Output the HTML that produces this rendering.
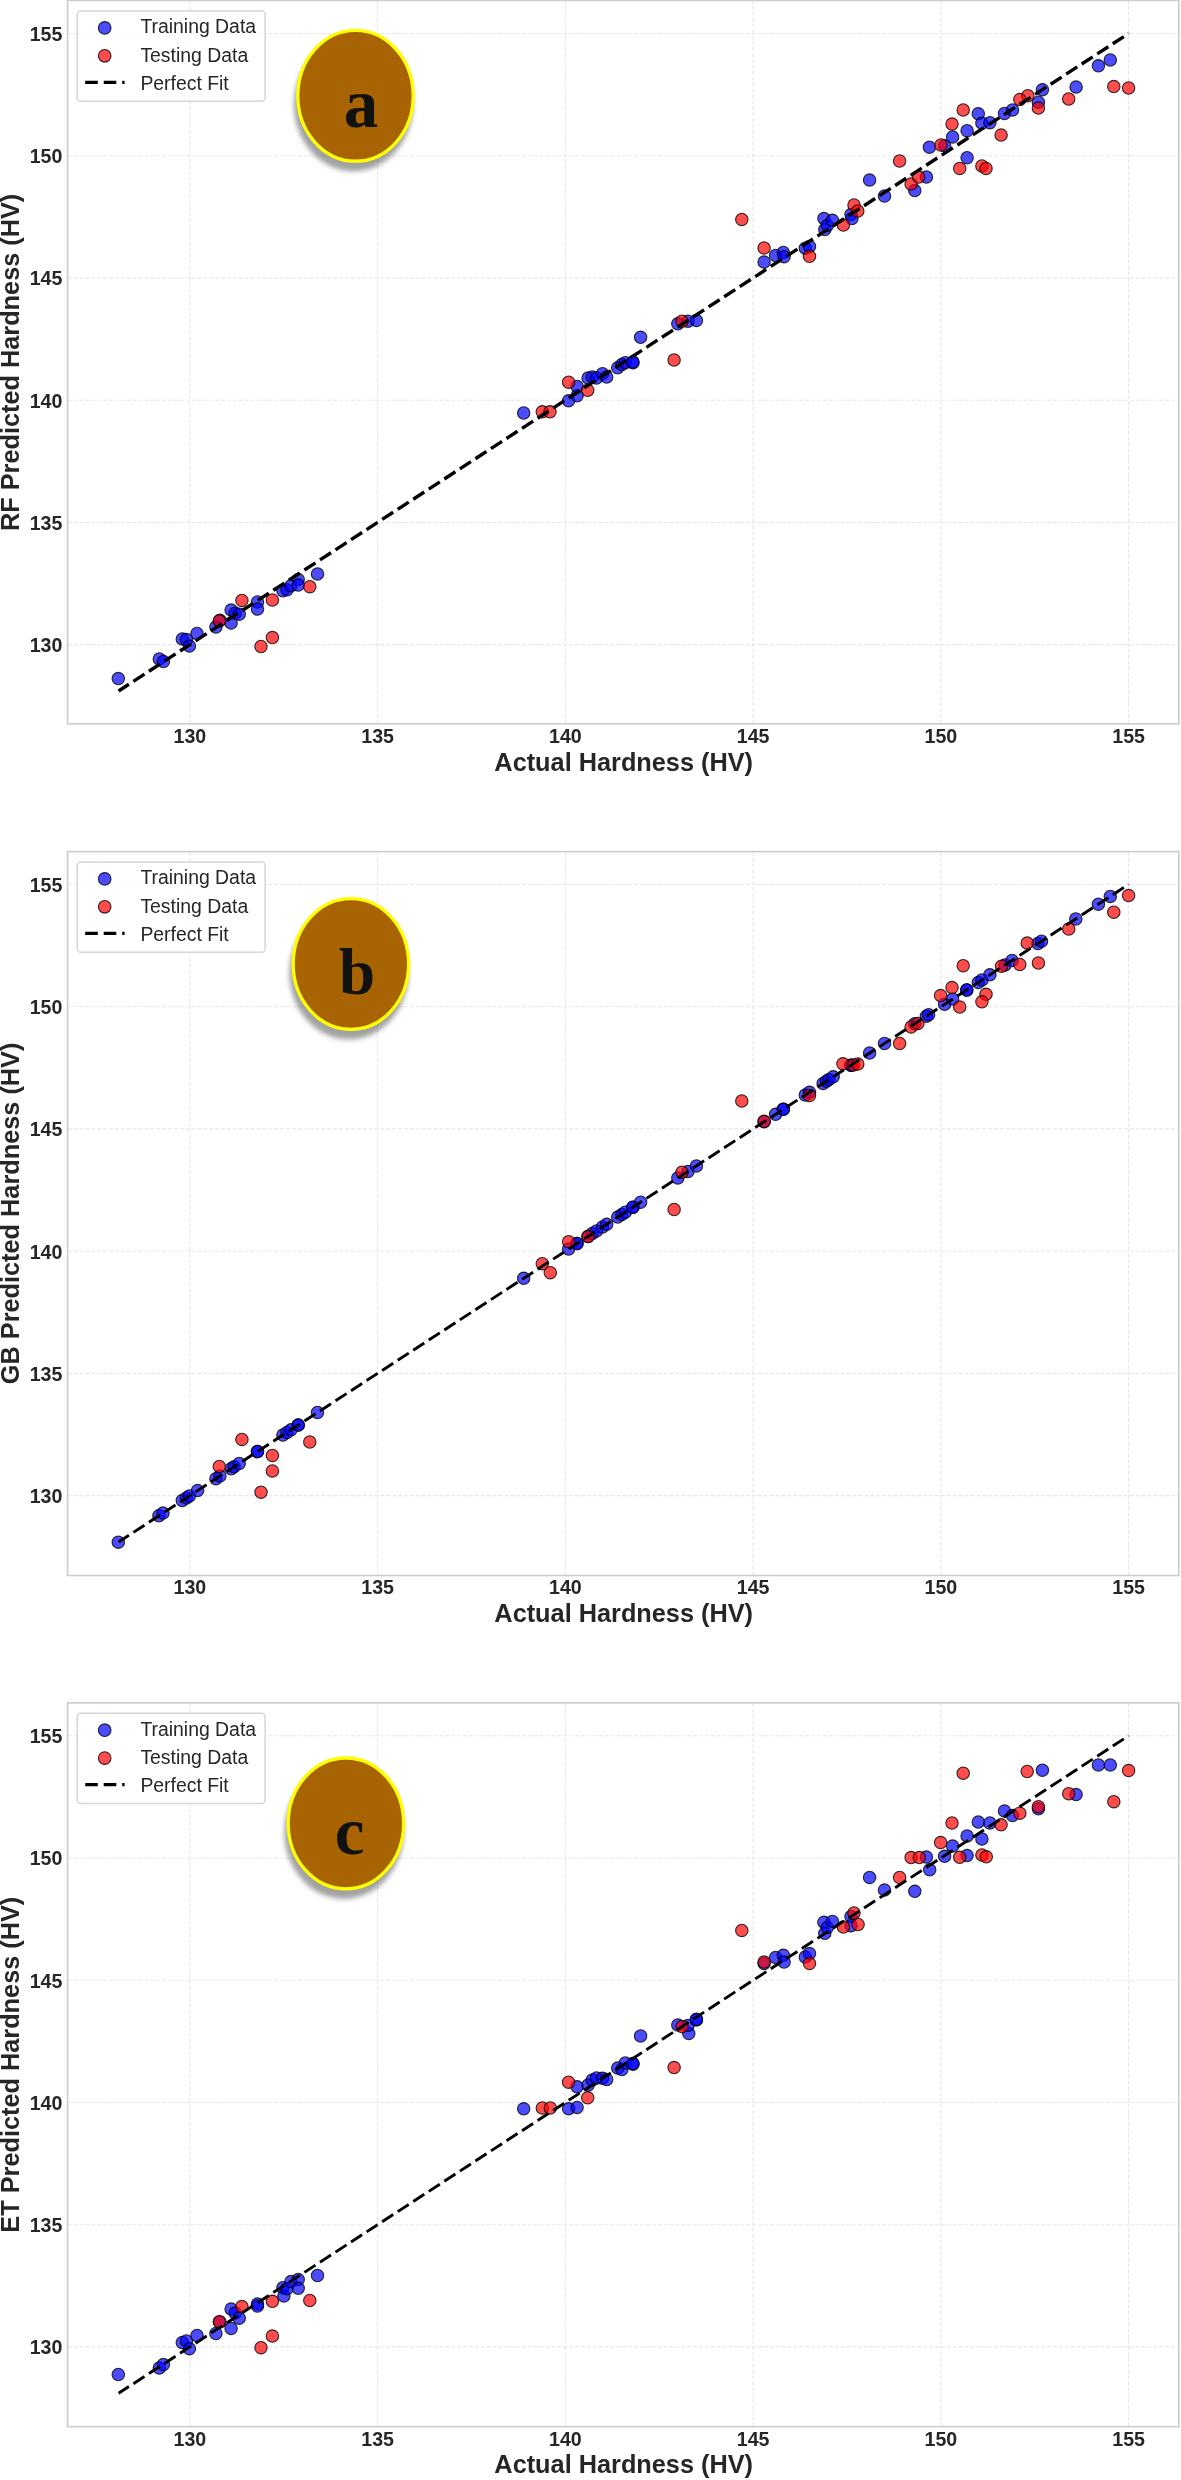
<!DOCTYPE html>
<html><head><meta charset="utf-8"><title>Predicted vs Actual Hardness</title>
<style>
html,body{margin:0;padding:0;background:#fff;}
body{width:1181px;height:2480px;overflow:hidden;font-family:"Liberation Sans",sans-serif;}
svg{display:block;will-change:transform;}
.tk{font-family:"Liberation Sans",sans-serif;font-weight:bold;font-size:19.6px;fill:#262626;}
.al{font-family:"Liberation Sans",sans-serif;font-weight:bold;font-size:25.3px;fill:#262626;}
.lg{font-family:"Liberation Sans",sans-serif;font-size:19.4px;fill:#262626;}
.lt{font-family:"Liberation Serif",serif;font-weight:bold;font-size:70px;fill:#111;}
.gr{stroke:#e7e7e7;stroke-width:1.1;stroke-dasharray:4.1 1.8;fill:none;}
.fr{stroke:#cccccc;stroke-width:1.6;fill:none;}
.bl{fill:#0000ff;fill-opacity:.7;stroke:#000;stroke-opacity:.8;stroke-width:1.1;}
.rd{fill:#ff0000;fill-opacity:.7;stroke:#000;stroke-opacity:.8;stroke-width:1.1;}
</style></head><body>
<svg width="1181" height="2480" viewBox="0 0 1181 2480">
<defs><filter id="sh" x="-30%" y="-30%" width="160%" height="160%"><feGaussianBlur stdDeviation="2.4"/></filter></defs>
<rect width="1181" height="2480" fill="#fff"/>

<g>
<path class="gr" d="M189.9 723.8 V0.4"/>
<path class="gr" d="M67.6 644.6 H1178.8"/>
<path class="gr" d="M377.6 723.8 V0.4"/>
<path class="gr" d="M67.6 522.4 H1178.8"/>
<path class="gr" d="M565.4 723.8 V0.4"/>
<path class="gr" d="M67.6 400.2 H1178.8"/>
<path class="gr" d="M753.1 723.8 V0.4"/>
<path class="gr" d="M67.6 277.9 H1178.8"/>
<path class="gr" d="M940.9 723.8 V0.4"/>
<path class="gr" d="M67.6 155.7 H1178.8"/>
<path class="gr" d="M1128.6 723.8 V0.4"/>
<path class="gr" d="M67.6 33.5 H1178.8"/>
<g class="bl"><circle cx="118.3" cy="678.6" r="6.2"/><circle cx="159.3" cy="658.9" r="6.2"/><circle cx="163.4" cy="661.5" r="6.2"/><circle cx="182.3" cy="639" r="6.2"/><circle cx="186.4" cy="639.6" r="6.2"/><circle cx="189.4" cy="646.1" r="6.2"/><circle cx="197" cy="633.5" r="6.2"/><circle cx="215.9" cy="627" r="6.2"/><circle cx="219.9" cy="620.3" r="6.2"/><circle cx="231.1" cy="610.1" r="6.2"/><circle cx="231.1" cy="622.9" r="6.2"/><circle cx="235.2" cy="613.2" r="6.2"/><circle cx="239.2" cy="614.2" r="6.2"/><circle cx="257.5" cy="602" r="6.2"/><circle cx="257.5" cy="609.1" r="6.2"/><circle cx="282.9" cy="590.8" r="6.2"/><circle cx="287" cy="589.8" r="6.2"/><circle cx="291" cy="585.7" r="6.2"/><circle cx="298.2" cy="579.6" r="6.2"/><circle cx="298.2" cy="585.1" r="6.2"/><circle cx="317.5" cy="573.9" r="6.2"/><circle cx="523.7" cy="413" r="6.2"/><circle cx="568.6" cy="400.8" r="6.2"/><circle cx="577.1" cy="395.8" r="6.2"/><circle cx="577.1" cy="386.4" r="6.2"/><circle cx="588.1" cy="378" r="6.2"/><circle cx="592.3" cy="377.1" r="6.2"/><circle cx="596.5" cy="378" r="6.2"/><circle cx="602.5" cy="373.7" r="6.2"/><circle cx="606.7" cy="377.1" r="6.2"/><circle cx="617.7" cy="367.8" r="6.2"/><circle cx="621.9" cy="364.4" r="6.2"/><circle cx="625.3" cy="362.7" r="6.2"/><circle cx="632.9" cy="362.7" r="6.2"/><circle cx="632.9" cy="361.9" r="6.2"/><circle cx="640.6" cy="337.3" r="6.2"/><circle cx="677.8" cy="323.8" r="6.2"/><circle cx="688" cy="321.2" r="6.2"/><circle cx="696.4" cy="320.4" r="6.2"/><circle cx="764.1" cy="262.1" r="6.2"/><circle cx="775.6" cy="255.5" r="6.2"/><circle cx="783.3" cy="252.5" r="6.2"/><circle cx="784.1" cy="256.7" r="6.2"/><circle cx="805.3" cy="248.2" r="6.2"/><circle cx="809.5" cy="246.5" r="6.2"/><circle cx="823.9" cy="218.6" r="6.2"/><circle cx="824.8" cy="229.6" r="6.2"/><circle cx="827.3" cy="225.4" r="6.2"/><circle cx="832.4" cy="220.3" r="6.2"/><circle cx="851" cy="214.4" r="6.2"/><circle cx="851.9" cy="218.6" r="6.2"/><circle cx="869.6" cy="180.1" r="6.2"/><circle cx="884.5" cy="196.1" r="6.2"/><circle cx="914.8" cy="190.6" r="6.2"/><circle cx="926.4" cy="177" r="6.2"/><circle cx="929.4" cy="147.2" r="6.2"/><circle cx="944.6" cy="145.8" r="6.2"/><circle cx="952.6" cy="136.9" r="6.2"/><circle cx="967.1" cy="130.7" r="6.2"/><circle cx="967.1" cy="157.7" r="6.2"/><circle cx="978.3" cy="113.8" r="6.2"/><circle cx="981.9" cy="123.2" r="6.2"/><circle cx="989.9" cy="122.7" r="6.2"/><circle cx="1004.5" cy="113.4" r="6.2"/><circle cx="1012.5" cy="109.9" r="6.2"/><circle cx="1038.4" cy="102.2" r="6.2"/><circle cx="1042.4" cy="89.8" r="6.2"/><circle cx="1076.1" cy="87.1" r="6.2"/><circle cx="1098.4" cy="65.8" r="6.2"/><circle cx="1110.3" cy="59.9" r="6.2"/></g>
<g class="rd"><circle cx="219.3" cy="620.9" r="6.2"/><circle cx="241.9" cy="600.4" r="6.2"/><circle cx="272.4" cy="600" r="6.2"/><circle cx="309.8" cy="586.7" r="6.2"/><circle cx="272.4" cy="637.6" r="6.2"/><circle cx="261" cy="646.5" r="6.2"/><circle cx="542.3" cy="411.8" r="6.2"/><circle cx="550" cy="411.8" r="6.2"/><circle cx="568.6" cy="382.2" r="6.2"/><circle cx="587.7" cy="390.3" r="6.2"/><circle cx="674.1" cy="359.9" r="6.2"/><circle cx="682" cy="321.2" r="6.2"/><circle cx="741.8" cy="219.4" r="6.2"/><circle cx="764.1" cy="247.9" r="6.2"/><circle cx="809.5" cy="256.3" r="6.2"/><circle cx="843.4" cy="225" r="6.2"/><circle cx="854" cy="205" r="6.2"/><circle cx="857.8" cy="211" r="6.2"/><circle cx="899.6" cy="161" r="6.2"/><circle cx="911.1" cy="183.9" r="6.2"/><circle cx="918.7" cy="177.1" r="6.2"/><circle cx="1128.6" cy="88" r="6.2"/><circle cx="1113.8" cy="86.6" r="6.2"/><circle cx="1068.7" cy="99" r="6.2"/><circle cx="1038.4" cy="108.1" r="6.2"/><circle cx="1027.8" cy="95.7" r="6.2"/><circle cx="1019.8" cy="99.6" r="6.2"/><circle cx="1001.1" cy="135.1" r="6.2"/><circle cx="963.2" cy="109.9" r="6.2"/><circle cx="952" cy="124.1" r="6.2"/><circle cx="941" cy="144.9" r="6.2"/><circle cx="959.7" cy="168.4" r="6.2"/><circle cx="981.9" cy="165.9" r="6.2"/><circle cx="986" cy="168.4" r="6.2"/></g>
<path d="M118.6 691 L1128.6 33.5" stroke="#000" stroke-width="3.4" stroke-dasharray="13.2 5.35" stroke-dashoffset="0.9" fill="none"/>
<rect class="fr" x="67.6" y="0.4" width="1111.2" height="723.4"/>
<text class="tk" text-anchor="middle" x="189.9" y="743.4">130</text>
<text class="tk" text-anchor="end" x="62.4" y="651.9">130</text>
<text class="tk" text-anchor="middle" x="377.6" y="743.4">135</text>
<text class="tk" text-anchor="end" x="62.4" y="529.7">135</text>
<text class="tk" text-anchor="middle" x="565.4" y="743.4">140</text>
<text class="tk" text-anchor="end" x="62.4" y="407.5">140</text>
<text class="tk" text-anchor="middle" x="753.1" y="743.4">145</text>
<text class="tk" text-anchor="end" x="62.4" y="285.2">145</text>
<text class="tk" text-anchor="middle" x="940.9" y="743.4">150</text>
<text class="tk" text-anchor="end" x="62.4" y="163">150</text>
<text class="tk" text-anchor="middle" x="1128.6" y="743.4">155</text>
<text class="tk" text-anchor="end" x="62.4" y="40.8">155</text>
<text class="al" text-anchor="middle" x="623.7" y="771">Actual Hardness (HV)</text>
<text class="al" text-anchor="middle" transform="translate(19.3 362.4) rotate(-90)">RF Predicted Hardness (HV)</text>
<rect x="77.2" y="10.9" width="187.9" height="90.3" rx="3.5" fill="#fff" fill-opacity=".8" stroke="#d6d6d6" stroke-width="1.5"/>
<circle class="bl" cx="104.7" cy="27.9" r="6.3"/>
<circle class="rd" cx="104.7" cy="55.8" r="6.3"/>
<path d="M85.2 82.4 H124.6" stroke="#000" stroke-width="3.2" stroke-dasharray="12.6 5.9" fill="none"/>
<text class="lg" x="140.4" y="33.3">Training Data</text>
<text class="lg" x="140.4" y="61.5">Testing Data</text>
<text class="lg" x="140.4" y="89.7">Perfect Fit</text>
<ellipse cx="353.5" cy="104.8" rx="59.5" ry="66.5" fill="#000" fill-opacity=".37" filter="url(#sh)"/>
<ellipse cx="355.5" cy="95.8" rx="57.7" ry="65.4" fill="#a86402" stroke="#ffff00" stroke-width="3.3"/>
<text class="lt" style="font-size:69px" x="343.7" y="126.6">a</text>
</g>
<g>
<path class="gr" d="M189.9 1575.5 V851.6"/>
<path class="gr" d="M67.6 1495.6 H1178.8"/>
<path class="gr" d="M377.6 1575.5 V851.6"/>
<path class="gr" d="M67.6 1373.4 H1178.8"/>
<path class="gr" d="M565.4 1575.5 V851.6"/>
<path class="gr" d="M67.6 1251.2 H1178.8"/>
<path class="gr" d="M753.1 1575.5 V851.6"/>
<path class="gr" d="M67.6 1128.9 H1178.8"/>
<path class="gr" d="M940.9 1575.5 V851.6"/>
<path class="gr" d="M67.6 1006.7 H1178.8"/>
<path class="gr" d="M1128.6 1575.5 V851.6"/>
<path class="gr" d="M67.6 884.5 H1178.8"/>
<g class="bl"><circle cx="118.3" cy="1542.2" r="6.2"/><circle cx="158.9" cy="1515.8" r="6.2"/><circle cx="163" cy="1513.1" r="6.2"/><circle cx="182.3" cy="1500.5" r="6.2"/><circle cx="186.4" cy="1497.9" r="6.2"/><circle cx="189.4" cy="1495.9" r="6.2"/><circle cx="197.6" cy="1490.6" r="6.2"/><circle cx="215.9" cy="1478.7" r="6.2"/><circle cx="219.9" cy="1476.1" r="6.2"/><circle cx="231.1" cy="1468.8" r="6.2"/><circle cx="234.1" cy="1466.8" r="6.2"/><circle cx="239.2" cy="1463.5" r="6.2"/><circle cx="257.5" cy="1451.6" r="6.2"/><circle cx="257.5" cy="1451.6" r="6.2"/><circle cx="282.9" cy="1435.1" r="6.2"/><circle cx="287" cy="1432.4" r="6.2"/><circle cx="291" cy="1429.8" r="6.2"/><circle cx="298.2" cy="1425.1" r="6.2"/><circle cx="298.2" cy="1425.1" r="6.2"/><circle cx="317.5" cy="1412.5" r="6.2"/><circle cx="523.7" cy="1278.3" r="6.2"/><circle cx="568.6" cy="1249.1" r="6.2"/><circle cx="577" cy="1243.6" r="6.2"/><circle cx="577" cy="1243.6" r="6.2"/><circle cx="588" cy="1236.4" r="6.2"/><circle cx="592.3" cy="1233.6" r="6.2"/><circle cx="596.5" cy="1230.9" r="6.2"/><circle cx="602.5" cy="1227" r="6.2"/><circle cx="606.7" cy="1224.3" r="6.2"/><circle cx="617.7" cy="1217.1" r="6.2"/><circle cx="621.9" cy="1214.4" r="6.2"/><circle cx="625.3" cy="1212.2" r="6.2"/><circle cx="632.9" cy="1207.2" r="6.2"/><circle cx="632.9" cy="1207.2" r="6.2"/><circle cx="640.6" cy="1202.2" r="6.2"/><circle cx="677.8" cy="1178" r="6.2"/><circle cx="688" cy="1171.4" r="6.2"/><circle cx="696.4" cy="1165.9" r="6.2"/><circle cx="764.1" cy="1121.8" r="6.2"/><circle cx="775.6" cy="1114.3" r="6.2"/><circle cx="783.3" cy="1109.3" r="6.2"/><circle cx="783.3" cy="1109.3" r="6.2"/><circle cx="805.3" cy="1095" r="6.2"/><circle cx="809.5" cy="1092.3" r="6.2"/><circle cx="823.1" cy="1083.4" r="6.2"/><circle cx="826.4" cy="1081.3" r="6.2"/><circle cx="829" cy="1079.6" r="6.2"/><circle cx="833.2" cy="1076.8" r="6.2"/><circle cx="851" cy="1065.2" r="6.2"/><circle cx="851" cy="1065.2" r="6.2"/><circle cx="869.6" cy="1053.1" r="6.2"/><circle cx="884.5" cy="1043.4" r="6.2"/><circle cx="914.8" cy="1023.7" r="6.2"/><circle cx="926.4" cy="1016.2" r="6.2"/><circle cx="928.6" cy="1014.7" r="6.2"/><circle cx="944.6" cy="1004.3" r="6.2"/><circle cx="952.6" cy="999.1" r="6.2"/><circle cx="966.8" cy="989.9" r="6.2"/><circle cx="966.8" cy="989.9" r="6.2"/><circle cx="978.3" cy="982.4" r="6.2"/><circle cx="981.9" cy="980" r="6.2"/><circle cx="989.9" cy="974.8" r="6.2"/><circle cx="1005" cy="965" r="6.2"/><circle cx="1012.1" cy="960.4" r="6.2"/><circle cx="1037.9" cy="943.6" r="6.2"/><circle cx="1041.5" cy="941.2" r="6.2"/><circle cx="1075.8" cy="918.9" r="6.2"/><circle cx="1098.4" cy="904.2" r="6.2"/><circle cx="1110.3" cy="896.4" r="6.2"/></g>
<g class="rd"><circle cx="241.9" cy="1439.4" r="6.2"/><circle cx="219.3" cy="1466.4" r="6.2"/><circle cx="272.4" cy="1455.4" r="6.2"/><circle cx="272.4" cy="1470.9" r="6.2"/><circle cx="261" cy="1492.2" r="6.2"/><circle cx="309.8" cy="1442" r="6.2"/><circle cx="542.3" cy="1263.7" r="6.2"/><circle cx="550.3" cy="1272.7" r="6.2"/><circle cx="568.6" cy="1241.7" r="6.2"/><circle cx="588.1" cy="1236.6" r="6.2"/><circle cx="674.1" cy="1209.5" r="6.2"/><circle cx="682" cy="1172.2" r="6.2"/><circle cx="741.8" cy="1101" r="6.2"/><circle cx="764.1" cy="1121.3" r="6.2"/><circle cx="809.5" cy="1095.4" r="6.2"/><circle cx="842.9" cy="1063.8" r="6.2"/><circle cx="853.5" cy="1065" r="6.2"/><circle cx="857.8" cy="1064.1" r="6.2"/><circle cx="899.6" cy="1043.5" r="6.2"/><circle cx="911.1" cy="1026.9" r="6.2"/><circle cx="917.9" cy="1023.5" r="6.2"/><circle cx="1128.6" cy="895.6" r="6.2"/><circle cx="1113.8" cy="912.2" r="6.2"/><circle cx="1068.7" cy="928.9" r="6.2"/><circle cx="1027.2" cy="943.1" r="6.2"/><circle cx="1038.4" cy="963" r="6.2"/><circle cx="1019.8" cy="964.5" r="6.2"/><circle cx="1001.5" cy="966.2" r="6.2"/><circle cx="963.2" cy="965.7" r="6.2"/><circle cx="952" cy="987.6" r="6.2"/><circle cx="940.6" cy="995.6" r="6.2"/><circle cx="959.7" cy="1007.1" r="6.2"/><circle cx="986" cy="994.3" r="6.2"/><circle cx="981.9" cy="1001.8" r="6.2"/></g>
<path d="M118.6 1542 L1128.6 884.5" stroke="#000" stroke-width="2.9" stroke-dasharray="13.2 5.35" stroke-dashoffset="0.9" fill="none"/>
<rect class="fr" x="67.6" y="851.6" width="1111.2" height="723.9"/>
<text class="tk" text-anchor="middle" x="189.9" y="1594.4">130</text>
<text class="tk" text-anchor="end" x="62.4" y="1502.9">130</text>
<text class="tk" text-anchor="middle" x="377.6" y="1594.4">135</text>
<text class="tk" text-anchor="end" x="62.4" y="1380.7">135</text>
<text class="tk" text-anchor="middle" x="565.4" y="1594.4">140</text>
<text class="tk" text-anchor="end" x="62.4" y="1258.5">140</text>
<text class="tk" text-anchor="middle" x="753.1" y="1594.4">145</text>
<text class="tk" text-anchor="end" x="62.4" y="1136.2">145</text>
<text class="tk" text-anchor="middle" x="940.9" y="1594.4">150</text>
<text class="tk" text-anchor="end" x="62.4" y="1014">150</text>
<text class="tk" text-anchor="middle" x="1128.6" y="1594.4">155</text>
<text class="tk" text-anchor="end" x="62.4" y="891.8">155</text>
<text class="al" text-anchor="middle" x="623.7" y="1622">Actual Hardness (HV)</text>
<text class="al" text-anchor="middle" transform="translate(19.3 1213.4) rotate(-90)">GB Predicted Hardness (HV)</text>
<rect x="77.2" y="861.9" width="187.9" height="90.3" rx="3.5" fill="#fff" fill-opacity=".8" stroke="#d6d6d6" stroke-width="1.5"/>
<circle class="bl" cx="104.7" cy="878.9" r="6.3"/>
<circle class="rd" cx="104.7" cy="906.8" r="6.3"/>
<path d="M85.2 933.4 H124.6" stroke="#000" stroke-width="3.2" stroke-dasharray="12.6 5.9" fill="none"/>
<text class="lg" x="140.4" y="884.3">Training Data</text>
<text class="lg" x="140.4" y="912.5">Testing Data</text>
<text class="lg" x="140.4" y="940.7">Perfect Fit</text>
<ellipse cx="348.9" cy="973" rx="59.5" ry="66.5" fill="#000" fill-opacity=".37" filter="url(#sh)"/>
<ellipse cx="350.9" cy="964" rx="57.7" ry="65.4" fill="#a86402" stroke="#ffff00" stroke-width="3.3"/>
<text class="lt" style="font-size:65px" x="338.9" y="994.3">b</text>
</g>
<g>
<path class="gr" d="M189.9 2426.7 V1702.9"/>
<path class="gr" d="M67.6 2346.9 H1178.8"/>
<path class="gr" d="M377.6 2426.7 V1702.9"/>
<path class="gr" d="M67.6 2224.7 H1178.8"/>
<path class="gr" d="M565.4 2426.7 V1702.9"/>
<path class="gr" d="M67.6 2102.5 H1178.8"/>
<path class="gr" d="M753.1 2426.7 V1702.9"/>
<path class="gr" d="M67.6 1980.2 H1178.8"/>
<path class="gr" d="M940.9 2426.7 V1702.9"/>
<path class="gr" d="M67.6 1858 H1178.8"/>
<path class="gr" d="M1128.6 2426.7 V1702.9"/>
<path class="gr" d="M67.6 1735.8 H1178.8"/>
<g class="bl"><circle cx="118.3" cy="2374.5" r="6.2"/><circle cx="159.3" cy="2368" r="6.2"/><circle cx="163.4" cy="2364.6" r="6.2"/><circle cx="182.3" cy="2342.6" r="6.2"/><circle cx="186.4" cy="2341" r="6.2"/><circle cx="189.4" cy="2348.7" r="6.2"/><circle cx="197" cy="2335.5" r="6.2"/><circle cx="215.9" cy="2333.5" r="6.2"/><circle cx="219.9" cy="2321.9" r="6.2"/><circle cx="231.1" cy="2309.1" r="6.2"/><circle cx="231.1" cy="2328.4" r="6.2"/><circle cx="235.2" cy="2313.1" r="6.2"/><circle cx="239.2" cy="2318.2" r="6.2"/><circle cx="257.5" cy="2304" r="6.2"/><circle cx="257.5" cy="2306" r="6.2"/><circle cx="282.9" cy="2287.7" r="6.2"/><circle cx="283.9" cy="2295.9" r="6.2"/><circle cx="287" cy="2288.7" r="6.2"/><circle cx="291" cy="2281.6" r="6.2"/><circle cx="298.2" cy="2279.6" r="6.2"/><circle cx="298.2" cy="2288.3" r="6.2"/><circle cx="317.5" cy="2275.5" r="6.2"/><circle cx="523.7" cy="2108.8" r="6.2"/><circle cx="568.6" cy="2108.8" r="6.2"/><circle cx="577.1" cy="2107.4" r="6.2"/><circle cx="577.1" cy="2086.8" r="6.2"/><circle cx="588.1" cy="2085.1" r="6.2"/><circle cx="592.3" cy="2080" r="6.2"/><circle cx="596.5" cy="2078" r="6.2"/><circle cx="602.5" cy="2078.3" r="6.2"/><circle cx="606.7" cy="2079.6" r="6.2"/><circle cx="617.7" cy="2068.1" r="6.2"/><circle cx="621.9" cy="2069.5" r="6.2"/><circle cx="625.3" cy="2063" r="6.2"/><circle cx="632.9" cy="2064.2" r="6.2"/><circle cx="632.9" cy="2063.5" r="6.2"/><circle cx="640.6" cy="2036" r="6.2"/><circle cx="677.8" cy="2024.9" r="6.2"/><circle cx="688.8" cy="2033.4" r="6.2"/><circle cx="688" cy="2025.5" r="6.2"/><circle cx="696.4" cy="2019.9" r="6.2"/><circle cx="696.4" cy="2019.2" r="6.2"/><circle cx="764.1" cy="1963.4" r="6.2"/><circle cx="775.6" cy="1957.5" r="6.2"/><circle cx="783.3" cy="1955.3" r="6.2"/><circle cx="784.1" cy="1962.1" r="6.2"/><circle cx="805.3" cy="1957" r="6.2"/><circle cx="809.5" cy="1953.6" r="6.2"/><circle cx="823.9" cy="1922.3" r="6.2"/><circle cx="824.8" cy="1933.3" r="6.2"/><circle cx="827.3" cy="1927.4" r="6.2"/><circle cx="832.4" cy="1921.4" r="6.2"/><circle cx="851" cy="1916.4" r="6.2"/><circle cx="851" cy="1925.7" r="6.2"/><circle cx="869.6" cy="1877.4" r="6.2"/><circle cx="884.5" cy="1890.1" r="6.2"/><circle cx="914.8" cy="1891.3" r="6.2"/><circle cx="929.7" cy="1869.8" r="6.2"/><circle cx="926.4" cy="1857.1" r="6.2"/><circle cx="944.6" cy="1856.3" r="6.2"/><circle cx="952.6" cy="1846.1" r="6.2"/><circle cx="967.1" cy="1836" r="6.2"/><circle cx="967.1" cy="1855.6" r="6.2"/><circle cx="978.3" cy="1822.1" r="6.2"/><circle cx="981.9" cy="1839" r="6.2"/><circle cx="989.9" cy="1823" r="6.2"/><circle cx="1004.5" cy="1811.1" r="6.2"/><circle cx="1012.5" cy="1815.4" r="6.2"/><circle cx="1038.4" cy="1808.8" r="6.2"/><circle cx="1042.4" cy="1770.2" r="6.2"/><circle cx="1076.1" cy="1794.6" r="6.2"/><circle cx="1098.4" cy="1764.9" r="6.2"/><circle cx="1110.3" cy="1764.9" r="6.2"/></g>
<g class="rd"><circle cx="219.3" cy="2321.7" r="6.2"/><circle cx="241.9" cy="2306.6" r="6.2"/><circle cx="272.4" cy="2301.3" r="6.2"/><circle cx="309.8" cy="2300.5" r="6.2"/><circle cx="272.4" cy="2336.1" r="6.2"/><circle cx="261" cy="2347.7" r="6.2"/><circle cx="542.3" cy="2107.9" r="6.2"/><circle cx="550.3" cy="2107.9" r="6.2"/><circle cx="568.6" cy="2082.2" r="6.2"/><circle cx="587.7" cy="2097.8" r="6.2"/><circle cx="674.1" cy="2067.6" r="6.2"/><circle cx="682" cy="2026.6" r="6.2"/><circle cx="741.8" cy="1930.4" r="6.2"/><circle cx="764.1" cy="1962.1" r="6.2"/><circle cx="809.5" cy="1963.4" r="6.2"/><circle cx="843.4" cy="1927" r="6.2"/><circle cx="854" cy="1913" r="6.2"/><circle cx="858.1" cy="1924.5" r="6.2"/><circle cx="899.6" cy="1877.4" r="6.2"/><circle cx="911.1" cy="1857.6" r="6.2"/><circle cx="919.3" cy="1857.6" r="6.2"/><circle cx="1128.6" cy="1770.6" r="6.2"/><circle cx="1113.8" cy="1801.7" r="6.2"/><circle cx="1068.7" cy="1793.7" r="6.2"/><circle cx="1038.4" cy="1806.7" r="6.2"/><circle cx="1027.2" cy="1771.5" r="6.2"/><circle cx="1019.8" cy="1813.2" r="6.2"/><circle cx="1001.1" cy="1824.8" r="6.2"/><circle cx="963.2" cy="1773.2" r="6.2"/><circle cx="952" cy="1823" r="6.2"/><circle cx="940.6" cy="1842.6" r="6.2"/><circle cx="959.7" cy="1857.3" r="6.2"/><circle cx="981.9" cy="1855" r="6.2"/><circle cx="986.3" cy="1856.8" r="6.2"/></g>
<path d="M118.6 2393.3 L1128.6 1735.8" stroke="#000" stroke-width="2.9" stroke-dasharray="13.2 5.35" stroke-dashoffset="0.9" fill="none"/>
<rect class="fr" x="67.6" y="1702.9" width="1111.2" height="723.8"/>
<text class="tk" text-anchor="middle" x="189.9" y="2445.7">130</text>
<text class="tk" text-anchor="end" x="62.4" y="2354.2">130</text>
<text class="tk" text-anchor="middle" x="377.6" y="2445.7">135</text>
<text class="tk" text-anchor="end" x="62.4" y="2232">135</text>
<text class="tk" text-anchor="middle" x="565.4" y="2445.7">140</text>
<text class="tk" text-anchor="end" x="62.4" y="2109.8">140</text>
<text class="tk" text-anchor="middle" x="753.1" y="2445.7">145</text>
<text class="tk" text-anchor="end" x="62.4" y="1987.5">145</text>
<text class="tk" text-anchor="middle" x="940.9" y="2445.7">150</text>
<text class="tk" text-anchor="end" x="62.4" y="1865.3">150</text>
<text class="tk" text-anchor="middle" x="1128.6" y="2445.7">155</text>
<text class="tk" text-anchor="end" x="62.4" y="1743.1">155</text>
<text class="al" text-anchor="middle" x="623.7" y="2473.3">Actual Hardness (HV)</text>
<text class="al" text-anchor="middle" transform="translate(19.3 2064.7) rotate(-90)">ET Predicted Hardness (HV)</text>
<rect x="77.2" y="1713.2" width="187.9" height="90.3" rx="3.5" fill="#fff" fill-opacity=".8" stroke="#d6d6d6" stroke-width="1.5"/>
<circle class="bl" cx="104.7" cy="1730.2" r="6.3"/>
<circle class="rd" cx="104.7" cy="1758.1" r="6.3"/>
<path d="M85.2 1784.7 H124.6" stroke="#000" stroke-width="3.2" stroke-dasharray="12.6 5.9" fill="none"/>
<text class="lg" x="140.4" y="1735.6">Training Data</text>
<text class="lg" x="140.4" y="1763.8">Testing Data</text>
<text class="lg" x="140.4" y="1792">Perfect Fit</text>
<ellipse cx="343.9" cy="1832.4" rx="59.5" ry="66.5" fill="#000" fill-opacity=".37" filter="url(#sh)"/>
<ellipse cx="345.9" cy="1823.4" rx="57.7" ry="65.4" fill="#a86402" stroke="#ffff00" stroke-width="3.3"/>
<text class="lt" style="font-size:67px" x="334.7" y="1853.6">c</text>
</g>
</svg></body></html>
